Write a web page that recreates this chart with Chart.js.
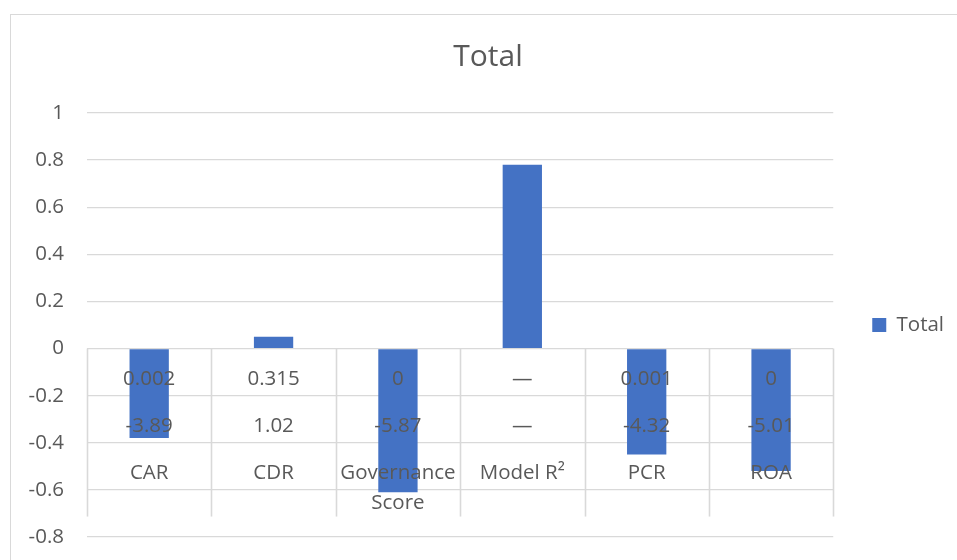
<!DOCTYPE html>
<html>
<head>
<meta charset="utf-8">
<script src="https://cdn.jsdelivr.net/npm/chart.js@4/dist/chart.umd.min.js"></script>
<style>
  html, body { margin: 0; padding: 0; background: #ffffff; }
  #wrap { width: 957px; height: 560px; }
</style>
</head>
<body>
<div id="wrap"><canvas id="c" width="957" height="560"></canvas></div>
<script>
// Coefficient bars with p-value / t-statistic rows under each variable
const categories = ['CAR', 'CDR', 'Governance Score', 'Model R²', 'PCR', 'ROA'];
const totals     = [-0.38, 0.05, -0.61, 0.78, -0.45, -0.52];
const pValues    = ['0.002', '0.315', '0', '—', '0.001', '0'];
const tStats     = ['-3.89', '1.02', '-5.87', '—', '-4.32', '-5.01'];
const yTicks     = [-0.8, -0.6, -0.4, -0.2, 0, 0.2, 0.4, 0.6, 0.8, 1];

const TEXT = '#595959';
const GRID = '#d9d9d9';
const FONT = "'Open Sans', 'Liberation Sans', sans-serif";
const LABEL_SIZE = 20.5;

// Outer frame around the whole chart
const chartFrame = {
  id: 'chartFrame',
  beforeDraw(chart) {
    const { ctx, width, height } = chart;
    ctx.save();
    ctx.fillStyle = '#ffffff';
    ctx.fillRect(0, 0, width, height);
    ctx.strokeStyle = GRID;
    ctx.lineWidth = 1;
    ctx.strokeRect(10.5, 14.5, width + 20, height + 20);
    ctx.restore();
  }
};

// Multi-level category labels hanging below the zero line
const categoryTable = {
  id: 'categoryTable',
  afterDatasetsDraw(chart) {
    const { ctx } = chart;
    const xs = chart.scales.x;
    const ys = chart.scales.y;
    const top = ys.getPixelForValue(0);
    const n = categories.length;
    const cell = (xs.right - xs.left) / n;
    const firstRow = 31, rowGap = 46.7, wrapGap = 30, depth = 168;

    ctx.save();
    // separators between categories
    ctx.strokeStyle = GRID;
    ctx.lineWidth = 1.6;
    for (let i = 0; i <= n; i++) {
      const x = Math.round(xs.left + i * cell) + 0.5;
      ctx.beginPath();
      ctx.moveTo(x, top);
      ctx.lineTo(x, top + depth);
      ctx.stroke();
    }

    ctx.fillStyle = TEXT;
    ctx.font = `${LABEL_SIZE}px ${FONT}`;
    ctx.textAlign = 'center';
    ctx.textBaseline = 'middle';
    const rows = [pValues, tStats, categories];
    rows.forEach((row, r) => {
      const y = top + firstRow + r * rowGap;
      row.forEach((txt, i) => {
        const cx = xs.getPixelForValue(i);
        // wrap words that do not fit inside one category cell
        const words = String(txt).split(' ');
        const lines = [];
        let cur = '';
        words.forEach(w => {
          const test = cur ? cur + ' ' + w : w;
          if (cur && ctx.measureText(test).width > cell - 4) {
            lines.push(cur);
            cur = w;
          } else {
            cur = test;
          }
        });
        if (cur) lines.push(cur);
        lines.forEach((ln, k) => ctx.fillText(ln, cx, y + k * wrapGap));
      });
    });
    ctx.restore();
  }
};

new Chart(document.getElementById('c'), {
  type: 'bar',
  data: {
    labels: categories,
    datasets: [{
      label: 'Total',
      data: totals,
      backgroundColor: '#4472c4',
      borderWidth: 0,
      barPercentage: 0.316,
      categoryPercentage: 1
    }]
  },
  options: {
    responsive: false,
    devicePixelRatio: 1,
    animation: false,
    layout: { padding: { left: 22, right: 3, top: 0, bottom: 23 } },
    plugins: {
      title: {
        display: true,
        text: 'Total',
        color: TEXT,
        font: { family: FONT, size: 30, weight: 'normal' },
        padding: { top: 39, bottom: 38 }
      },
      legend: {
        position: 'right',
        fullSize: false,
        labels: {
          boxWidth: 14,
          boxHeight: 14,
          padding: 39,
          color: TEXT,
          font: { family: FONT, size: LABEL_SIZE }
        }
      },
      tooltip: { enabled: false }
    },
    scales: {
      x: {
        display: false,
        offset: true
      },
      y: {
        min: yTicks[0],
        max: yTicks[yTicks.length - 1],
        afterFit(scale) {
          scale.width = 65;
          scale.paddingTop = 12;
          scale.paddingBottom = 12;
        },
        afterBuildTicks(scale) { scale.ticks = yTicks.map(v => ({ value: v })); },
        border: { display: false },
        grid: { color: GRID, lineWidth: 1.3, drawTicks: false },
        ticks: {
          padding: 23,
          color: TEXT,
          font: { family: FONT, size: LABEL_SIZE },
          callback: v => String(Math.round(v * 10) / 10)
        }
      }
    }
  },
  plugins: [chartFrame, categoryTable]
});
</script>
</body>
</html>
